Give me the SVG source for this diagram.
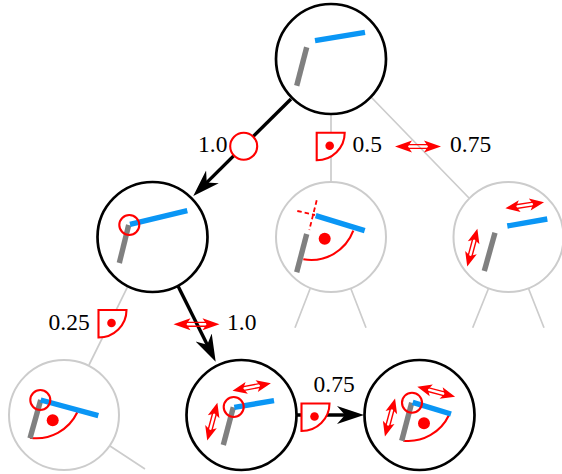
<svg xmlns="http://www.w3.org/2000/svg" xmlns:xlink="http://www.w3.org/1999/xlink" width="562" height="474" viewBox="0 0 562 474">
<style>
text{font-family:"Liberation Serif","Times New Roman",serif;font-size:23.5px;fill:#000}
.on{fill:#fff;stroke:#000;stroke-width:2.7}
.off{fill:#fff;stroke:#ccc;stroke-width:2}
.g{stroke:#808080;stroke-width:5.4;fill:none}
.b{stroke:#0a96f5;stroke-width:5.4;fill:none}
.rc{fill:none;stroke:#f00;stroke-width:2.1}
.dot{fill:#f00}
.k{stroke:#000;stroke-width:3.4;fill:none;marker-end:url(#head)}
.l{stroke:#ccc;stroke-width:1.7;fill:none}
.d{stroke:#f00;stroke-width:1.8;stroke-dasharray:4.5 3;fill:none}
</style>
<defs>
<marker id="head" markerUnits="userSpaceOnUse" markerWidth="30" markerHeight="20" refX="12" refY="10" orient="auto" viewBox="0 0 30 20">
<path d="M27,10 L0,1 L8,10 L0,19 Z" fill="#000"/>
</marker>
<g id="wedge"><path d="M0,0 H28 A28,27.5 0 0 1 0,27.5 Z" fill="#fff" stroke="#f00" stroke-width="2.1"/><circle cx="13" cy="13" r="4.3" fill="#f00"/></g>
<g id="da"><path d="M-14,-1.9 H14 M-14,1.9 H14" stroke="#f00" stroke-width="1.4" fill="none"/><path d="M-23,0 L-6,-6 L-10,0 L-6,6 Z M23,0 L6,-6 L10,0 L6,6 Z" fill="#f00"/></g>
</defs>
<g id="connectors">
<path class="l" d="M331,114V182M371,97L469,198M310,289L295,327.7M351,289L366,327.7M488.3,289L472.7,327.7M528.7,289L544,327.7M127.3,287.3L89,365M110,446L145,469"/>
<path class="k" d="M291,99L203.9,185.4"/>
<path class="k" d="M178,286L209,348.3"/>
<path class="k" d="M297,415H349"/>
</g>
<g id="node-root">
<circle class="on" cx="331" cy="59" r="55"/>
<path class="g" d="M306.7,47.3L296.7,85.7"/><path class="b" d="M315,40.7L365,32.3"/>
</g>
<g id="node-a">
<circle class="on" cx="152.5" cy="237" r="55"/>
<path class="g" d="M128.7,225L119.3,263"/><path class="b" d="M130,224.3L187.3,210.7"/>
<circle class="rc" cx="129.3" cy="225" r="10"/>
</g>
<g id="node-b">
<circle class="off" cx="331" cy="237" r="55"/>
<path class="rc" d="M303.3,259.3A45,45 0 0 0 353.3,230.7"/>
<circle class="dot" cx="324.7" cy="238.7" r="6"/>
<path class="d" d="M316.7,200.3L309.3,230M297.3,211L315,215"/>
<path class="g" d="M306.7,234L296.7,272.3"/><path class="b" d="M315.7,215.7L364.7,230.7"/>
</g>
<g id="node-c">
<circle class="off" cx="508.5" cy="237" r="55"/>
<path class="g" d="M495,232.7L484.3,271"/><path class="b" d="M507.3,226L547.3,219"/>
<use xlink:href="#da" href="#da" transform="translate(524.7,205.3) rotate(-8.8) scale(.85,1)"/>
<use xlink:href="#da" href="#da" transform="translate(472.3,247.7) rotate(105) scale(.85,1)"/>
</g>
<g id="node-d">
<circle class="off" cx="64" cy="415" r="55"/>
<path class="rc" d="M30,437.7A45,45 0 0 0 77.3,412.3"/>
<circle class="dot" cx="52.7" cy="420.3" r="6"/>
<path class="g" d="M40.7,400L30,438.3"/><path class="b" d="M40.7,400L98.3,415.7"/>
<circle class="rc" cx="40.3" cy="400" r="10"/>
</g>
<g id="node-e">
<circle class="on" cx="241.5" cy="415" r="55"/>
<path class="g" d="M233.3,407.3L223.3,445"/><path class="b" d="M234.3,407.3L274,400.7"/>
<circle class="rc" cx="233.7" cy="407" r="10"/>
<use xlink:href="#da" href="#da" transform="translate(251.7,387) rotate(-11) scale(.85,1)"/>
<use xlink:href="#da" href="#da" transform="translate(212.3,421.7) rotate(105) scale(.85,1)"/>
</g>
<g id="node-f">
<circle class="on" cx="419.5" cy="415" r="55"/>
<path class="rc" d="M403.3,440.7A45,45 0 0 0 449,415"/>
<circle class="dot" cx="424" cy="423.3" r="6"/>
<path class="g" d="M411.7,402.7L401.7,440.7"/><path class="b" d="M412.7,402.3L451,414"/>
<circle class="rc" cx="412" cy="402.7" r="10"/>
<use xlink:href="#da" href="#da" transform="translate(436.2,391.7) rotate(14.9) scale(.85,1)"/>
<use xlink:href="#da" href="#da" transform="translate(390,417.5) rotate(105) scale(.85,1)"/>
</g>
<g id="labels">
<text x="198" y="151.7">1.0</text>
<circle cx="243.7" cy="146.3" r="13.5" fill="#fff" stroke="#f00" stroke-width="2.1"/>
<use xlink:href="#wedge" href="#wedge" x="316.7" y="132.7"/>
<text x="352.5" y="151.7">0.5</text>
<use xlink:href="#da" href="#da" x="418" y="146.5"/>
<text x="450" y="151.7">0.75</text>
<text x="48.5" y="330">0.25</text>
<use xlink:href="#wedge" href="#wedge" x="98.5" y="310"/>
<use xlink:href="#da" href="#da" x="196.5" y="324.3"/>
<text x="227" y="330">1.0</text>
<text x="313.5" y="392.3">0.75</text>
<use xlink:href="#wedge" href="#wedge" x="301.5" y="403.5"/>
</g>
</svg>
